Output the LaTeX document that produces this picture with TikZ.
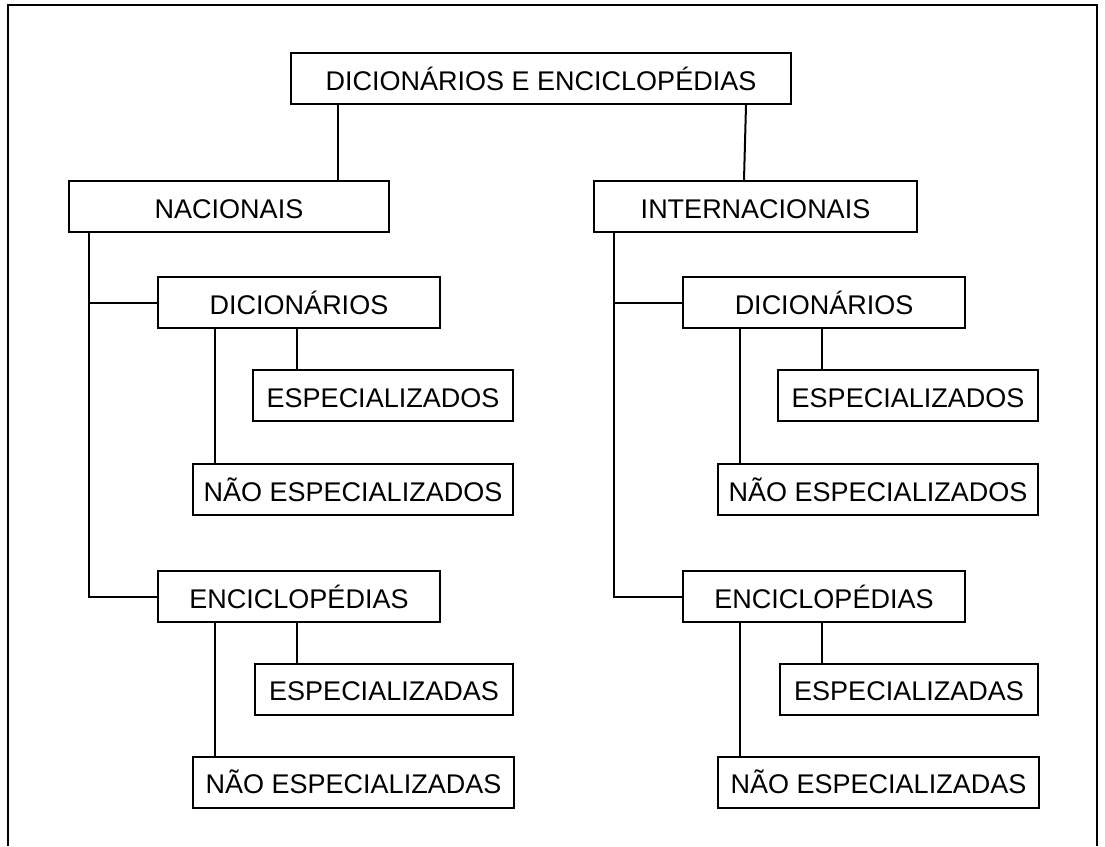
\documentclass[tikz,border=0pt]{standalone}
\usepackage{fontspec}
\setmainfont{Liberation Sans}
\usepackage{tikz}

\begin{document}
\begin{tikzpicture}[x=1pt, y=-1pt, line width=2pt,
  catbox/.style={draw, rectangle, minimum height=51pt, inner sep=0pt, text height=23pt, text depth=0pt, font=\fontsize{27pt}{30pt}\selectfont}]%
\useasboundingbox (0,0) rectangle (1105,846);%
\draw (8,846) -- (8,5) -- (1097,5) -- (1097,846);%
\node[catbox, minimum width=500pt] (top) at (541, 78.5) {DICIONÁRIOS E ENCICLOPÉDIAS};%
\node[catbox, minimum width=320pt] (nac) at (229, 206.5) {NACIONAIS};%
\node[catbox, minimum width=323pt] (int) at (755.5, 206.5) {INTERNACIONAIS};%
% nacionais
\node[catbox, minimum width=282pt] (dicL) at (299, 302.5) {DICIONÁRIOS};%
\node[catbox, minimum width=260pt] (espL) at (383, 395.5) {ESPECIALIZADOS};%
\node[catbox, minimum width=320pt] (naoL) at (353, 489.5) {NÃO ESPECIALIZADOS};%
\node[catbox, minimum width=282pt] (encL) at (299, 596.5) {ENCICLOPÉDIAS};%
\node[catbox, minimum width=258pt] (espaL) at (384, 689) {ESPECIALIZADAS};%
\node[catbox, minimum width=321pt] (naoaL) at (353.5, 782) {NÃO ESPECIALIZADAS};%
% internacionais
\node[catbox, minimum width=282pt] (dicR) at (824, 302.5) {DICIONÁRIOS};%
\node[catbox, minimum width=260pt] (espR) at (908, 395.5) {ESPECIALIZADOS};%
\node[catbox, minimum width=320pt] (naoR) at (878, 489.5) {NÃO ESPECIALIZADOS};%
\node[catbox, minimum width=282pt] (encR) at (824, 596.5) {ENCICLOPÉDIAS};%
\node[catbox, minimum width=258pt] (espaR) at (909, 689) {ESPECIALIZADAS};%
\node[catbox, minimum width=321pt] (naoaR) at (878.5, 782) {NÃO ESPECIALIZADAS};%
% ligacoes
\draw ([xshift=48pt]top.south west) -- ([xshift=270pt]nac.north west);%
\draw ([xshift=-46pt]top.south east) -- ([xshift=151pt]int.north west);%
\draw ([xshift=21pt]nac.south west) |- (dicL.west);%
\draw ([xshift=21pt]nac.south west) |- (encL.west);%
\draw ([xshift=21pt]int.south west) |- (dicR.west);%
\draw ([xshift=21pt]int.south west) |- (encR.west);%
\draw ([xshift=58pt]dicL.south west) -- ([xshift=23pt]naoL.north west);%
\draw ([xshift=140pt]dicL.south west) -- ([xshift=45pt]espL.north west);%
\draw ([xshift=58pt]encL.south west) -- ([xshift=23pt]naoaL.north west);%
\draw ([xshift=140pt]encL.south west) -- ([xshift=43pt]espaL.north west);%
\draw ([xshift=58pt]dicR.south west) -- ([xshift=23pt]naoR.north west);%
\draw ([xshift=140pt]dicR.south west) -- ([xshift=45pt]espR.north west);%
\draw ([xshift=58pt]encR.south west) -- ([xshift=23pt]naoaR.north west);%
\draw ([xshift=140pt]encR.south west) -- ([xshift=43pt]espaR.north west);%
\end{tikzpicture}
\end{document}
